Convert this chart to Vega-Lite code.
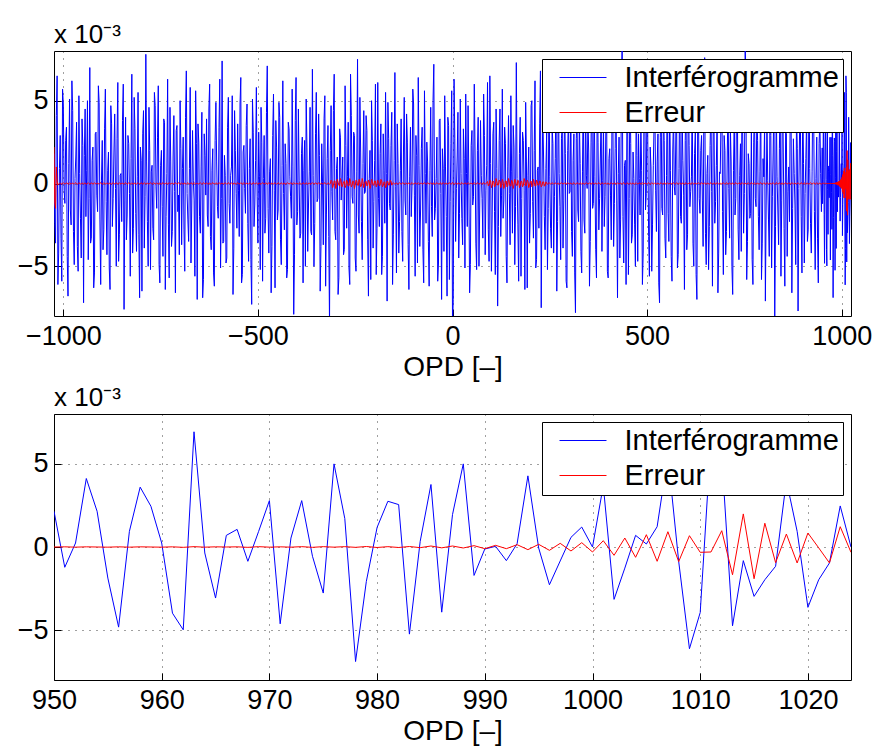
{
"$schema": "https://vega.github.io/schema/vega-lite/v6.json",
"background": "white",
"padding": {"left": 16, "top": 21, "right": 0, "bottom": 0},
"spacing": 2,
"config": {
  "font": "Liberation Sans",
  "view": {"stroke": "#000", "strokeWidth": 1},
  "axis": {"labelFont": "Liberation Sans", "titleFont": "Liberation Sans", "labelFontSize": 27, "titleFontSize": 28, "titleFontWeight": "normal", "labelColor": "#000", "titleColor": "#000", "domain": false, "tickColor": "#000", "tickSize": -7, "grid": true, "gridColor": "#000", "gridDash": [1, 6], "gridOpacity": 0.75, "labelFlush": false},
  "axisX": {"labelPadding": 14, "titlePadding": 4, "format": "d"},
  "axisY": {"labelPadding": 13},
  "legend": {"orient": "top-right", "offset": 8, "symbolType": "M-2,0H2", "symbolSize": 552, "symbolStrokeWidth": 1, "labelFont": "Liberation Sans", "labelFontSize": 29, "labelColor": "#000", "strokeColor": "#000", "fillColor": "#fff", "padding": 4, "rowPadding": 5, "symbolOffset": 22.5, "labelOffset": 27, "labelLimit": 400},
  "title": {"font": "Liberation Sans", "fontSize": 26, "fontWeight": "normal", "anchor": "start", "frame": "group", "offset": 3, "color": "#000"}
},
"resolve": {"scale": {"color": "independent"}, "legend": {"color": "independent"}},
"datasets": {"d": [
{"x":-1024,"i":1.8,"e":2.2},{"x":-1020,"i":-3.6,"e":-1.5},{"x":-1016,"i":6.5,"e":0.1},{"x":-1012,"i":-4.2,"e":-0.05},{"x":-1008,"i":2.9,"e":0.03},{"x":-1004,"i":-5.9,"e":-0.05},{"x":-1000,"i":4.8,"e":0.05},{"x":-996,"i":-1.2,"e":-0.03},{"x":-992,"i":3.4,"e":0.04},{"x":-988,"i":-6.8,"e":-0.05},{"x":-984,"i":5.1,"e":0.05},{"x":-980,"i":-2.5,"e":-0.04},{"x":-976,"i":4.4,"e":0.03},{"x":-972,"i":-4.9,"e":-0.04},{"x":-968,"i":1.6,"e":0.05},{"x":-964,"i":-3.8,"e":-0.05},
{"x":-960,"i":5.3,"e":0.05},{"x":-956,"i":-2.1,"e":-0.04},{"x":-952,"i":3.9,"e":0.04},{"x":-948,"i":-7.2,"e":-0.05},{"x":-944,"i":4.5,"e":0.03},{"x":-940,"i":0.8,"e":-0.05},{"x":-936,"i":-4.6,"e":0.05},{"x":-932,"i":7.0,"e":-0.03},{"x":-928,"i":-3.3,"e":0.04},{"x":-924,"i":2.2,"e":-0.05},{"x":-920,"i":-5.4,"e":0.05},{"x":-916,"i":3.1,"e":-0.04},{"x":-912,"i":-1.7,"e":0.03},{"x":-908,"i":4.9,"e":-0.04},{"x":-904,"i":-6.1,"e":0.05},{"x":-900,"i":2.6,"e":-0.05},
{"x":-896,"i":-2.8,"e":0.05},{"x":-892,"i":5.7,"e":-0.04},{"x":-888,"i":-4.3,"e":0.04},{"x":-884,"i":1.9,"e":-0.05},{"x":-880,"i":-6.4,"e":0.03},{"x":-876,"i":3.6,"e":-0.05},{"x":-872,"i":-0.9,"e":0.05},{"x":-868,"i":4.2,"e":-0.03},{"x":-864,"i":-5.0,"e":0.04},{"x":-860,"i":6.1,"e":-0.05},{"x":-856,"i":-3.1,"e":0.05},{"x":-852,"i":0.6,"e":-0.04},{"x":-848,"i":3.8,"e":0.03},{"x":-844,"i":-7.6,"e":-0.04},{"x":-840,"i":4.0,"e":0.05},{"x":-836,"i":-1.9,"e":-0.05},
{"x":-832,"i":2.4,"e":0.05},{"x":-828,"i":-5.6,"e":-0.04},{"x":-824,"i":6.6,"e":0.04},{"x":-820,"i":-2.7,"e":-0.05},{"x":-816,"i":3.3,"e":0.03},{"x":-812,"i":-4.1,"e":-0.05},{"x":-808,"i":5.5,"e":0.05},{"x":-804,"i":-6.9,"e":-0.03},{"x":-800,"i":1.4,"e":0.04},{"x":-796,"i":3.0,"e":-0.05},{"x":-792,"i":-3.9,"e":0.05},{"x":-788,"i":7.8,"e":-0.04},{"x":-784,"i":-2.3,"e":0.03},{"x":-780,"i":4.6,"e":-0.04},{"x":-776,"i":-5.2,"e":0.05},{"x":-772,"i":1.1,"e":-0.05},
{"x":-768,"i":-3.4,"e":0.05},{"x":-764,"i":4.7,"e":-0.04},{"x":-760,"i":-1.5,"e":0.04},{"x":-756,"i":5.9,"e":-0.05},{"x":-752,"i":-6.0,"e":0.03},{"x":-748,"i":2.0,"e":-0.05},{"x":-744,"i":-4.4,"e":0.05},{"x":-740,"i":3.7,"e":-0.03},{"x":-736,"i":-2.0,"e":0.04},{"x":-732,"i":6.3,"e":-0.05},{"x":-728,"i":-5.7,"e":0.05},{"x":-724,"i":1.3,"e":-0.04},{"x":-720,"i":-2.9,"e":0.03},{"x":-716,"i":4.1,"e":-0.04},{"x":-712,"i":-6.6,"e":0.05},{"x":-708,"i":3.5,"e":-0.05},
{"x":-704,"i":-0.7,"e":0.05},{"x":-700,"i":5.0,"e":-0.04},{"x":-696,"i":-3.7,"e":0.04},{"x":-692,"i":2.8,"e":-0.05},{"x":-688,"i":-5.3,"e":0.03},{"x":-684,"i":6.8,"e":-0.05},{"x":-680,"i":-2.2,"e":0.05},{"x":-676,"i":0.9,"e":-0.03},{"x":-672,"i":-4.8,"e":0.04},{"x":-668,"i":3.2,"e":-0.05},{"x":-664,"i":-1.0,"e":0.05},{"x":-660,"i":5.6,"e":-0.04},{"x":-656,"i":-7.0,"e":0.03},{"x":-652,"i":2.5,"e":-0.04},{"x":-648,"i":-3.0,"e":0.05},{"x":-644,"i":4.3,"e":-0.05},
{"x":-640,"i":-5.8,"e":0.05},{"x":-636,"i":1.7,"e":-0.04},{"x":-632,"i":3.9,"e":0.04},{"x":-628,"i":-2.6,"e":-0.05},{"x":-624,"i":6.0,"e":0.03},{"x":-620,"i":-4.0,"e":-0.05},{"x":-616,"i":2.1,"e":0.05},{"x":-612,"i":-6.2,"e":-0.03},{"x":-608,"i":4.9,"e":0.04},{"x":-604,"i":-1.4,"e":-0.05},{"x":-600,"i":3.4,"e":0.05},{"x":-596,"i":-5.1,"e":-0.04},{"x":-592,"i":7.4,"e":0.03},{"x":-588,"i":-3.5,"e":-0.04},{"x":-584,"i":0.5,"e":0.05},{"x":-580,"i":-4.5,"e":-0.05},
{"x":-576,"i":5.2,"e":0.05},{"x":-572,"i":-2.4,"e":-0.04},{"x":-568,"i":1.0,"e":0.04},{"x":-564,"i":-6.7,"e":-0.05},{"x":-560,"i":4.4,"e":0.03},{"x":-556,"i":-0.6,"e":-0.05},{"x":-552,"i":3.6,"e":0.05},{"x":-548,"i":-3.2,"e":-0.03},{"x":-544,"i":6.4,"e":0.04},{"x":-540,"i":-5.5,"e":-0.05},{"x":-536,"i":2.3,"e":0.05},{"x":-532,"i":-1.8,"e":-0.04},{"x":-528,"i":4.8,"e":0.03},{"x":-524,"i":-4.7,"e":-0.04},{"x":-520,"i":2.7,"e":0.05},{"x":-516,"i":-7.3,"e":-0.05},
{"x":-512,"i":3.1,"e":0.05},{"x":-508,"i":-1.3,"e":-0.04},{"x":-504,"i":5.8,"e":0.04},{"x":-500,"i":-3.6,"e":-0.05},{"x":-496,"i":0.4,"e":0.03},{"x":-492,"i":4.6,"e":-0.05},{"x":-488,"i":-5.9,"e":0.05},{"x":-484,"i":2.9,"e":-0.03},{"x":-480,"i":-2.1,"e":0.04},{"x":-476,"i":7.1,"e":-0.05},{"x":-472,"i":-4.2,"e":0.05},{"x":-468,"i":1.5,"e":-0.04},{"x":-464,"i":-3.8,"e":0.03},{"x":-460,"i":5.4,"e":-0.04},{"x":-456,"i":-6.3,"e":0.05},{"x":-452,"i":2.2,"e":-0.05},
{"x":-448,"i":-1.6,"e":0.05},{"x":-444,"i":4.0,"e":-0.04},{"x":-440,"i":-4.9,"e":0.04},{"x":-436,"i":6.2,"e":-0.05},{"x":-432,"i":-2.8,"e":0.03},{"x":-428,"i":1.2,"e":-0.05},{"x":-424,"i":-5.2,"e":0.05},{"x":-420,"i":3.3,"e":-0.03},{"x":-416,"i":-0.8,"e":0.04},{"x":-412,"i":5.7,"e":-0.05},{"x":-408,"i":-7.9,"e":0.05},{"x":-404,"i":3.8,"e":-0.04},{"x":-400,"i":-2.5,"e":0.03},{"x":-396,"i":4.5,"e":-0.04},{"x":-392,"i":-3.3,"e":0.05},{"x":-388,"i":1.8,"e":-0.05},
{"x":-384,"i":-6.0,"e":0.05},{"x":-380,"i":2.6,"e":-0.04},{"x":-376,"i":5.1,"e":0.04},{"x":-372,"i":-4.1,"e":-0.05},{"x":-368,"i":0.7,"e":0.03},{"x":-364,"i":-2.9,"e":-0.05},{"x":-360,"i":6.9,"e":0.05},{"x":-356,"i":-5.0,"e":-0.03},{"x":-352,"i":3.0,"e":0.04},{"x":-348,"i":-1.1,"e":-0.05},{"x":-344,"i":4.2,"e":0.05},{"x":-340,"i":-6.5,"e":-0.04},{"x":-336,"i":2.4,"e":0.03},{"x":-332,"i":-3.7,"e":-0.04},{"x":-328,"i":5.3,"e":0.05},{"x":-324,"i":-1.9,"e":-0.05},
{"x":-320,"i":3.5,"e":0.05},{"x":-316,"i":-8.5,"e":-0.05},{"x":-312,"i":4.7,"e":0.2},{"x":-308,"i":-2.2,"e":-0.25},{"x":-304,"i":6.6,"e":0.15},{"x":-300,"i":-3.4,"e":-0.3},{"x":-296,"i":1.6,"e":0.25},{"x":-292,"i":-5.7,"e":-0.1},{"x":-288,"i":2.8,"e":0.3},{"x":-284,"i":0.3,"e":-0.2},{"x":-280,"i":-4.3,"e":0.1},{"x":-276,"i":5.9,"e":-0.25},{"x":-272,"i":-2.7,"e":0.2},{"x":-268,"i":3.7,"e":-0.15},{"x":-264,"i":-6.1,"e":0.3},{"x":-260,"i":4.1,"e":-0.2},
{"x":-256,"i":-1.2,"e":0.15},{"x":-252,"i":2.9,"e":-0.3},{"x":-248,"i":-5.3,"e":0.2},{"x":-244,"i":7.5,"e":-0.1},{"x":-240,"i":-3.0,"e":0.25},{"x":-236,"i":1.9,"e":-0.2},{"x":-232,"i":-4.6,"e":0.3},{"x":-228,"i":4.4,"e":-0.25},{"x":-224,"i":-0.5,"e":0.1},{"x":-220,"i":3.2,"e":-0.15},{"x":-216,"i":-6.8,"e":0.2},{"x":-212,"i":2.0,"e":-0.3},{"x":-208,"i":5.0,"e":0.25},{"x":-204,"i":-3.9,"e":-0.1},{"x":-200,"i":1.4,"e":0.15},{"x":-196,"i":-5.5,"e":-0.2},
{"x":-192,"i":6.1,"e":0.2},{"x":-188,"i":-2.6,"e":-0.15},{"x":-184,"i":3.6,"e":0.25},{"x":-180,"i":-4.4,"e":-0.2},{"x":-176,"i":0.8,"e":0.1},{"x":-172,"i":5.5,"e":-0.25},{"x":-168,"i":-7.1,"e":0.15},{"x":-164,"i":2.7,"e":-0.1},{"x":-160,"i":-1.6,"e":0.2},{"x":-156,"i":4.3,"e":-0.1},{"x":-152,"i":-3.1,"e":0.05},{"x":-148,"i":6.7,"e":-0.05},{"x":-144,"i":-5.4,"e":0.04},{"x":-140,"i":1.2,"e":-0.05},{"x":-136,"i":-2.3,"e":0.05},{"x":-132,"i":3.9,"e":-0.04},
{"x":-128,"i":-4.7,"e":0.05},{"x":-124,"i":5.2,"e":-0.04},{"x":-120,"i":-1.9,"e":0.04},{"x":-116,"i":2.5,"e":-0.05},{"x":-112,"i":-6.4,"e":0.03},{"x":-108,"i":3.4,"e":-0.05},{"x":-104,"i":-0.2,"e":0.05},{"x":-100,"i":4.8,"e":-0.03},{"x":-96,"i":-5.6,"e":0.04},{"x":-92,"i":1.7,"e":-0.05},{"x":-88,"i":6.4,"e":0.05},{"x":-84,"i":-3.8,"e":-0.04},{"x":-80,"i":2.1,"e":0.03},{"x":-76,"i":-4.0,"e":-0.04},{"x":-72,"i":5.6,"e":0.05},{"x":-68,"i":-2.4,"e":-0.05},
{"x":-64,"i":1.3,"e":0.05},{"x":-60,"i":-6.2,"e":-0.04},{"x":-56,"i":4.6,"e":0.04},{"x":-52,"i":-3.2,"e":-0.05},{"x":-48,"i":7.2,"e":0.03},{"x":-44,"i":-1.5,"e":-0.05},{"x":-40,"i":2.8,"e":0.05},{"x":-36,"i":-4.8,"e":-0.03},{"x":-32,"i":3.9,"e":0.04},{"x":-28,"i":-7.0,"e":-0.05},{"x":-24,"i":0.9,"e":0.05},{"x":-20,"i":5.3,"e":-0.04},{"x":-16,"i":-2.0,"e":0.03},{"x":-12,"i":4.0,"e":-0.04},{"x":-8,"i":-5.8,"e":0.05},{"x":-4,"i":2.4,"e":-0.05},
{"x":0,"i":-8.6,"e":0.06},{"x":4,"i":6.3,"e":-0.06},{"x":8,"i":-3.5,"e":0.04},{"x":12,"i":1.6,"e":-0.05},{"x":16,"i":-4.5,"e":0.03},{"x":20,"i":5.1,"e":-0.05},{"x":24,"i":-2.1,"e":0.05},{"x":28,"i":3.3,"e":-0.03},{"x":32,"i":-5.1,"e":0.04},{"x":36,"i":0.6,"e":-0.05},{"x":40,"i":4.7,"e":0.05},{"x":44,"i":-6.6,"e":-0.04},{"x":48,"i":2.3,"e":0.03},{"x":52,"i":-1.3,"e":-0.04},{"x":56,"i":6.0,"e":0.05},{"x":60,"i":-3.6,"e":-0.05},
{"x":64,"i":2.0,"e":0.05},{"x":68,"i":-5.0,"e":-0.05},{"x":72,"i":3.8,"e":0.04},{"x":76,"i":-0.9,"e":-0.05},{"x":80,"i":5.4,"e":0.05},{"x":84,"i":-4.3,"e":-0.04},{"x":88,"i":1.1,"e":0.05},{"x":92,"i":-2.8,"e":-0.15},{"x":96,"i":6.5,"e":0.2},{"x":100,"i":-5.3,"e":-0.25},{"x":104,"i":3.0,"e":0.15},{"x":108,"i":-1.7,"e":-0.2},{"x":112,"i":4.5,"e":0.3},{"x":116,"i":-7.4,"e":-0.1},{"x":120,"i":2.6,"e":0.2},{"x":124,"i":-3.2,"e":-0.25},
{"x":128,"i":5.7,"e":0.25},{"x":132,"i":-1.0,"e":-0.3},{"x":136,"i":2.4,"e":0.15},{"x":140,"i":-6.0,"e":-0.2},{"x":144,"i":4.1,"e":0.3},{"x":148,"i":-3.7,"e":-0.15},{"x":152,"i":0.7,"e":0.2},{"x":156,"i":3.5,"e":-0.3},{"x":160,"i":-4.9,"e":0.25},{"x":164,"i":7.3,"e":-0.1},{"x":168,"i":-2.5,"e":0.2},{"x":172,"i":1.8,"e":-0.25},{"x":176,"i":-5.6,"e":0.15},{"x":180,"i":3.1,"e":-0.2},{"x":184,"i":-0.4,"e":0.3},{"x":188,"i":4.9,"e":-0.15},
{"x":192,"i":-6.3,"e":0.2},{"x":196,"i":2.2,"e":-0.25},{"x":200,"i":-1.8,"e":0.1},{"x":204,"i":5.0,"e":-0.2},{"x":208,"i":-3.3,"e":0.25},{"x":212,"i":6.2,"e":-0.15},{"x":216,"i":-4.6,"e":0.2},{"x":220,"i":1.0,"e":-0.1},{"x":224,"i":3.6,"e":0.15},{"x":228,"i":-7.5,"e":-0.2},{"x":232,"i":4.3,"e":0.1},{"x":236,"i":-2.0,"e":-0.15},{"x":240,"i":0.9,"e":0.1},{"x":244,"i":-5.2,"e":-0.05},{"x":248,"i":5.8,"e":0.05},{"x":252,"i":-2.7,"e":-0.04},
{"x":256,"i":3.4,"e":0.05},{"x":260,"i":-4.2,"e":-0.04},{"x":264,"i":1.5,"e":0.04},{"x":268,"i":-6.5,"e":-0.05},{"x":272,"i":6.9,"e":0.03},{"x":276,"i":-1.4,"e":-0.05},{"x":280,"i":2.7,"e":0.05},{"x":284,"i":-3.9,"e":-0.03},{"x":288,"i":4.8,"e":0.04},{"x":292,"i":-5.9,"e":-0.05},{"x":296,"i":2.0,"e":0.05},{"x":300,"i":-0.6,"e":-0.04},{"x":304,"i":5.2,"e":0.03},{"x":308,"i":-4.4,"e":-0.04},{"x":312,"i":3.0,"e":0.05},{"x":316,"i":-7.8,"e":-0.05},
{"x":320,"i":4.2,"e":0.05},{"x":324,"i":-2.3,"e":-0.04},{"x":328,"i":1.2,"e":0.04},{"x":332,"i":-5.4,"e":-0.05},{"x":336,"i":6.0,"e":0.03},{"x":340,"i":-3.0,"e":-0.05},{"x":344,"i":0.5,"e":0.05},{"x":348,"i":3.9,"e":-0.03},{"x":352,"i":-6.2,"e":0.04},{"x":356,"i":2.5,"e":-0.05},{"x":360,"i":-1.5,"e":0.05},{"x":364,"i":5.5,"e":-0.04},{"x":368,"i":-4.0,"e":0.03},{"x":372,"i":7.0,"e":-0.04},{"x":376,"i":-2.8,"e":0.05},{"x":380,"i":1.6,"e":-0.05},
{"x":384,"i":-4.1,"e":0.05},{"x":388,"i":3.7,"e":-0.04},{"x":392,"i":-0.8,"e":0.04},{"x":396,"i":5.3,"e":-0.05},{"x":400,"i":-5.7,"e":0.03},{"x":404,"i":2.1,"e":-0.05},{"x":408,"i":-3.4,"e":0.05},{"x":412,"i":4.6,"e":-0.03},{"x":416,"i":-1.2,"e":0.04},{"x":420,"i":6.6,"e":-0.05},{"x":424,"i":-6.9,"e":0.05},{"x":428,"i":2.8,"e":-0.04},{"x":432,"i":-2.2,"e":0.03},{"x":436,"i":8.6,"e":-0.04},{"x":440,"i":-4.8,"e":0.05},{"x":444,"i":1.4,"e":-0.05},
{"x":448,"i":3.2,"e":0.05},{"x":452,"i":-5.5,"e":-0.04},{"x":456,"i":6.4,"e":0.04},{"x":460,"i":-3.6,"e":-0.05},{"x":464,"i":1.9,"e":0.03},{"x":468,"i":-2.5,"e":-0.05},{"x":472,"i":5.1,"e":0.05},{"x":476,"i":-4.7,"e":-0.03},{"x":480,"i":0.3,"e":0.04},{"x":484,"i":3.8,"e":-0.05},{"x":488,"i":-6.1,"e":0.05},{"x":492,"i":4.4,"e":-0.04},{"x":496,"i":-1.6,"e":0.03},{"x":500,"i":6.3,"e":-0.04},{"x":504,"i":-3.2,"e":0.05},{"x":508,"i":2.2,"e":-0.05},
{"x":512,"i":-5.3,"e":0.05},{"x":516,"i":1.1,"e":-0.04},{"x":520,"i":4.7,"e":0.04},{"x":524,"i":-2.9,"e":-0.05},{"x":528,"i":3.0,"e":0.03},{"x":532,"i":-7.2,"e":-0.05},{"x":536,"i":5.6,"e":0.05},{"x":540,"i":-1.9,"e":-0.03},{"x":544,"i":2.6,"e":0.04},{"x":548,"i":-4.5,"e":-0.05},{"x":552,"i":6.8,"e":0.05},{"x":556,"i":-3.5,"e":-0.04},{"x":560,"i":0.8,"e":0.03},{"x":564,"i":-5.9,"e":-0.04},{"x":568,"i":4.2,"e":0.05},{"x":572,"i":-0.7,"e":-0.05},
{"x":576,"i":3.6,"e":0.05},{"x":580,"i":-4.3,"e":-0.04},{"x":584,"i":6.1,"e":0.04},{"x":588,"i":-2.4,"e":-0.05},{"x":592,"i":1.4,"e":0.03},{"x":596,"i":-6.4,"e":-0.05},{"x":600,"i":4.9,"e":0.05},{"x":604,"i":-3.1,"e":-0.03},{"x":608,"i":2.3,"e":0.04},{"x":612,"i":-0.5,"e":-0.05},{"x":616,"i":5.4,"e":0.05},{"x":620,"i":-5.0,"e":-0.04},{"x":624,"i":3.1,"e":0.03},{"x":628,"i":-7.0,"e":-0.04},{"x":632,"i":4.6,"e":0.05},{"x":636,"i":-1.8,"e":-0.05},
{"x":640,"i":2.9,"e":0.05},{"x":644,"i":-3.8,"e":-0.04},{"x":648,"i":7.6,"e":0.04},{"x":652,"i":-4.9,"e":-0.05},{"x":656,"i":1.7,"e":0.03},{"x":660,"i":-2.6,"e":-0.05},{"x":664,"i":5.0,"e":0.05},{"x":668,"i":-6.2,"e":-0.03},{"x":672,"i":3.5,"e":0.04},{"x":676,"i":-1.1,"e":-0.05},{"x":680,"i":4.1,"e":0.05},{"x":684,"i":-4.2,"e":-0.04},{"x":688,"i":0.6,"e":0.03},{"x":692,"i":6.4,"e":-0.04},{"x":696,"i":-5.5,"e":0.05},{"x":700,"i":2.0,"e":-0.05},
{"x":704,"i":-2.9,"e":0.05},{"x":708,"i":5.2,"e":-0.04},{"x":712,"i":-3.3,"e":0.04},{"x":716,"i":1.3,"e":-0.05},{"x":720,"i":-6.7,"e":0.03},{"x":724,"i":3.9,"e":-0.05},{"x":728,"i":-0.9,"e":0.05},{"x":732,"i":4.8,"e":-0.03},{"x":736,"i":-4.6,"e":0.04},{"x":740,"i":2.4,"e":-0.05},{"x":744,"i":6.9,"e":0.05},{"x":748,"i":-3.0,"e":-0.04},{"x":752,"i":8.6,"e":0.03},{"x":756,"i":-5.8,"e":-0.04},{"x":760,"i":1.8,"e":0.05},{"x":764,"i":-2.1,"e":-0.05},
{"x":768,"i":3.3,"e":0.05},{"x":772,"i":-6.1,"e":-0.04},{"x":776,"i":4.5,"e":0.04},{"x":780,"i":-1.4,"e":-0.05},{"x":784,"i":2.6,"e":0.03},{"x":788,"i":-4.0,"e":-0.05},{"x":792,"i":5.9,"e":0.05},{"x":796,"i":-3.6,"e":-0.03},{"x":800,"i":0.4,"e":0.04},{"x":804,"i":-7.1,"e":-0.05},{"x":808,"i":3.7,"e":0.05},{"x":812,"i":-2.2,"e":-0.04},{"x":816,"i":6.2,"e":0.03},{"x":820,"i":-5.1,"e":-0.04},{"x":824,"i":1.9,"e":0.05},{"x":828,"i":-8.4,"e":-0.05},
{"x":832,"i":4.9,"e":0.05},{"x":836,"i":-1.6,"e":-0.04},{"x":840,"i":2.1,"e":0.04},{"x":844,"i":-5.6,"e":-0.05},{"x":848,"i":6.7,"e":0.03},{"x":852,"i":-2.7,"e":-0.05},{"x":856,"i":3.2,"e":0.05},{"x":860,"i":-4.4,"e":-0.03},{"x":864,"i":1.0,"e":0.04},{"x":868,"i":5.6,"e":-0.05},{"x":872,"i":-6.6,"e":0.05},{"x":876,"i":2.7,"e":-0.04},{"x":880,"i":-1.3,"e":0.03},{"x":884,"i":4.3,"e":-0.04},{"x":888,"i":-7.7,"e":0.05},{"x":892,"i":3.4,"e":-0.05},
{"x":896,"i":-2.0,"e":0.05},{"x":900,"i":5.8,"e":-0.04},{"x":904,"i":-4.8,"e":0.04},{"x":908,"i":1.5,"e":-0.05},{"x":912,"i":-3.5,"e":0.03},{"x":916,"i":6.5,"e":-0.05},{"x":920,"i":-2.4,"e":0.05},{"x":924,"i":0.7,"e":-0.03},{"x":928,"i":4.4,"e":0.04},{"x":932,"i":-5.2,"e":-0.05},{"x":936,"i":2.8,"e":0.05},{"x":940,"i":-6.0,"e":-0.04},{"x":944,"i":3.8,"e":0.03},{"x":948,"i":-1.7,"e":-0.04},
{"x":950,"i":2.15,"e":0},{"x":951,"i":-1.22,"e":0.01},{"x":952,"i":0.24,"e":-0.01},{"x":953,"i":4.12,"e":0.01},{"x":954,"i":2.15,"e":0},{"x":955,"i":-1.87,"e":-0.01},{"x":956,"i":-4.82,"e":0.01},{"x":957,"i":0.94,"e":-0.01},{"x":958,"i":3.6,"e":0.01},{"x":959,"i":2.45,"e":0},
{"x":960,"i":0.24,"e":-0.01},{"x":961,"i":-3.98,"e":0.01},{"x":962,"i":-4.98,"e":-0.02},{"x":963,"i":6.93,"e":0.02},{"x":964,"i":-0.36,"e":-0.01},{"x":965,"i":-3.07,"e":0.01},{"x":966,"i":0.7,"e":0},{"x":967,"i":1.06,"e":0.01},{"x":968,"i":-0.86,"e":-0.02},{"x":969,"i":0.94,"e":0.02},
{"x":970,"i":2.79,"e":-0.01},{"x":971,"i":-4.62,"e":0.01},{"x":972,"i":0.54,"e":-0.01},{"x":973,"i":2.79,"e":0.02},{"x":974,"i":-0.56,"e":-0.02},{"x":975,"i":-2.77,"e":0.02},{"x":976,"i":5.0,"e":-0.01},{"x":977,"i":1.71,"e":0.02},{"x":978,"i":-6.89,"e":-0.02},{"x":979,"i":-2.07,"e":0.03},
{"x":980,"i":1.18,"e":-0.03},{"x":981,"i":2.75,"e":0.02},{"x":982,"i":2.55,"e":-0.03},{"x":983,"i":-5.24,"e":0.03},{"x":984,"i":0.34,"e":-0.04},{"x":985,"i":3.76,"e":0.06},{"x":986,"i":-3.92,"e":-0.05},{"x":987,"i":1.95,"e":0.06},{"x":988,"i":5.0,"e":-0.06},{"x":989,"i":-1.71,"e":0.08},
{"x":990,"i":-0.12,"e":-0.1},{"x":991,"i":0.04,"e":0.1},{"x":992,"i":-0.82,"e":-0.1},{"x":993,"i":0.2,"e":0.14},{"x":994,"i":4.28,"e":-0.16},{"x":995,"i":-0.06,"e":0.16},{"x":996,"i":-2.27,"e":-0.2},{"x":997,"i":-0.84,"e":0.22},{"x":998,"i":0.58,"e":-0.24},{"x":999,"i":1.2,"e":0.26},
{"x":1000,"i":0.0,"e":-0.3},{"x":1001,"i":3.7,"e":0.38},{"x":1002,"i":-3.15,"e":-0.5},{"x":1003,"i":-1.27,"e":0.54},{"x":1004,"i":0.7,"e":-0.62},{"x":1005,"i":0.18,"e":0.74},{"x":1006,"i":1.22,"e":-0.86},{"x":1007,"i":5.5,"e":0.92},{"x":1008,"i":-0.86,"e":-0.88},{"x":1009,"i":-6.12,"e":0.68},
{"x":1010,"i":-3.94,"e":-0.32},{"x":1011,"i":6.5,"e":-0.3},{"x":1012,"i":5.5,"e":0.98},{"x":1013,"i":-4.74,"e":-1.67},{"x":1014,"i":-0.82,"e":1.99},{"x":1015,"i":-2.97,"e":-1.91},{"x":1016,"i":-1.97,"e":1.43},{"x":1017,"i":-1.16,"e":-0.94},{"x":1018,"i":4.0,"e":0.78},{"x":1019,"i":0.94,"e":-0.96},
{"x":1020,"i":-3.63,"e":0.84},{"x":1021,"i":-1.97,"e":-0.05},{"x":1022,"i":-0.96,"e":-0.96},{"x":1023,"i":2.47,"e":1.22},{"x":1024,"i":0.0,"e":-0.32},
{"x":-1022,"i":-2.4,"e":-1.2},{"x":-1018,"i":4.1,"e":1.0},{"x":-1014,"i":-6.1,"e":-0.1},{"x":-1010,"i":0.9,"e":0.02},{"x":-1006,"i":-3.3,"e":-0.02},{"x":-1002,"i":5.7,"e":0.01},{"x":-998,"i":-0.4,"e":0},{"x":-994,"i":2.6,"e":-0.01},{"x":-990,"i":-4.4,"e":0.02},{"x":-986,"i":1.2,"e":-0.01},{"x":-982,"i":-1.6,"e":0},{"x":-978,"i":6.2,"e":0.01},{"x":-974,"i":-2.9,"e":-0.02},{"x":-970,"i":0.3,"e":0.01},{"x":-966,"i":3.7,"e":0},{"x":-962,"i":-5.3,"e":-0.01},
{"x":-958,"i":0.6,"e":0.01},{"x":-954,"i":-4.5,"e":-0.01},{"x":-950,"i":2.3,"e":0},{"x":-946,"i":1.7,"e":0.02},{"x":-942,"i":-2.0,"e":-0.02},{"x":-938,"i":5.0,"e":0.01},{"x":-934,"i":-0.9,"e":0},{"x":-930,"i":-3.6,"e":-0.01},{"x":-926,"i":1.4,"e":0.02},{"x":-922,"i":-6.3,"e":-0.01},{"x":-918,"i":3.0,"e":0},{"x":-914,"i":-0.7,"e":0.01},{"x":-910,"i":5.9,"e":-0.02},{"x":-906,"i":-2.2,"e":0.01},{"x":-902,"i":0.2,"e":0},{"x":-898,"i":-4.0,"e":-0.01},
{"x":-894,"i":3.3,"e":0.01},{"x":-890,"i":-1.1,"e":-0.01},{"x":-886,"i":0.8,"e":0},{"x":-882,"i":-5.1,"e":0.02},{"x":-878,"i":4.7,"e":-0.02},{"x":-874,"i":-2.6,"e":0.01},{"x":-870,"i":1.9,"e":0},{"x":-866,"i":-0.3,"e":-0.01},{"x":-862,"i":2.7,"e":0.02},{"x":-858,"i":-4.7,"e":-0.01},{"x":-854,"i":0.5,"e":0},{"x":-850,"i":-2.3,"e":0.01},{"x":-846,"i":6.0,"e":-0.02},{"x":-842,"i":-1.0,"e":0.01},{"x":-838,"i":-3.4,"e":0},{"x":-834,"i":2.9,"e":-0.01},
{"x":-830,"i":-0.6,"e":0.01},{"x":-826,"i":1.5,"e":-0.01},{"x":-822,"i":-4.2,"e":0},{"x":-818,"i":5.2,"e":0.02},{"x":-814,"i":-1.8,"e":-0.02},{"x":-810,"i":0.4,"e":0.01},{"x":-806,"i":-3.1,"e":0},{"x":-802,"i":2.2,"e":-0.01},{"x":-798,"i":-6.5,"e":0.02},{"x":-794,"i":4.4,"e":-0.01},{"x":-790,"i":-0.8,"e":0},{"x":-786,"i":1.3,"e":0.01},{"x":-782,"i":-5.0,"e":-0.02},{"x":-778,"i":2.0,"e":0.01},{"x":-774,"i":0.7,"e":0},{"x":-770,"i":-2.7,"e":-0.01},
{"x":-766,"i":5.5,"e":0.01},{"x":-762,"i":-0.2,"e":-0.01},{"x":-758,"i":2.8,"e":0},{"x":-754,"i":-4.9,"e":0.02},{"x":-750,"i":1.1,"e":-0.02},{"x":-746,"i":-1.4,"e":0.01},{"x":-742,"i":3.9,"e":0},{"x":-738,"i":-6.4,"e":-0.01},{"x":-734,"i":0.6,"e":0.02},{"x":-730,"i":-2.5,"e":-0.01},{"x":-726,"i":4.6,"e":0},{"x":-722,"i":-3.8,"e":0.01},{"x":-718,"i":1.6,"e":-0.02},{"x":-714,"i":-0.5,"e":0.01},{"x":-710,"i":3.2,"e":0},{"x":-706,"i":-1.7,"e":-0.01},
{"x":-702,"i":-4.3,"e":0.01},{"x":-698,"i":2.1,"e":-0.01},{"x":-694,"i":0.9,"e":0},{"x":-690,"i":-2.8,"e":0.02},{"x":-686,"i":4.0,"e":-0.02},{"x":-682,"i":-0.6,"e":0.01},{"x":-678,"i":-3.5,"e":0},{"x":-674,"i":5.8,"e":-0.01},{"x":-670,"i":-1.3,"e":0.02},{"x":-666,"i":0.2,"e":-0.01},{"x":-662,"i":-5.6,"e":0},{"x":-658,"i":2.4,"e":0.01},{"x":-654,"i":3.6,"e":-0.02},{"x":-650,"i":-2.0,"e":0.01},{"x":-646,"i":1.0,"e":0},{"x":-642,"i":-6.9,"e":-0.01},
{"x":-638,"i":3.0,"e":0.01},{"x":-634,"i":-0.7,"e":-0.01},{"x":-630,"i":-1.9,"e":0},{"x":-626,"i":4.5,"e":0.02},{"x":-622,"i":-3.2,"e":-0.02},{"x":-618,"i":0.8,"e":0.01},{"x":-614,"i":-5.4,"e":0},{"x":-610,"i":2.6,"e":-0.01},{"x":-606,"i":1.3,"e":0.02},{"x":-602,"i":-2.1,"e":-0.01},{"x":-598,"i":6.3,"e":0},{"x":-594,"i":-0.9,"e":0.01},{"x":-590,"i":-3.6,"e":-0.02},{"x":-586,"i":1.7,"e":0.01},{"x":-582,"i":-4.8,"e":0},{"x":-578,"i":3.4,"e":-0.01},
{"x":-574,"i":-1.2,"e":0.01},{"x":-570,"i":0.5,"e":-0.01},{"x":-566,"i":5.3,"e":0},{"x":-562,"i":-3.9,"e":0.02},{"x":-558,"i":2.0,"e":-0.02},{"x":-554,"i":-2.7,"e":0.01},{"x":-550,"i":-0.4,"e":0},{"x":-546,"i":4.8,"e":-0.01},{"x":-542,"i":-6.0,"e":0.02},{"x":-538,"i":1.9,"e":-0.01},{"x":-534,"i":-0.3,"e":0},{"x":-530,"i":3.5,"e":0.01},{"x":-526,"i":-2.4,"e":-0.02},{"x":-522,"i":0.9,"e":0.01},{"x":-518,"i":-4.6,"e":0},{"x":-514,"i":5.1,"e":-0.01},
{"x":-510,"i":-2.6,"e":0.01},{"x":-506,"i":1.4,"e":-0.01},{"x":-502,"i":-0.8,"e":0},{"x":-498,"i":3.1,"e":0.02},{"x":-494,"i":-5.2,"e":-0.02},{"x":-490,"i":2.5,"e":0.01},{"x":-486,"i":0.3,"e":0},{"x":-482,"i":-3.0,"e":-0.01},{"x":-478,"i":4.3,"e":0.02},{"x":-474,"i":-1.5,"e":-0.01},{"x":-470,"i":0.7,"e":0},{"x":-466,"i":-6.6,"e":0.01},{"x":-462,"i":2.9,"e":-0.02},{"x":-458,"i":-0.4,"e":0.01},{"x":-454,"i":3.8,"e":0},{"x":-450,"i":-2.2,"e":-0.01},
{"x":-446,"i":4.9,"e":0.01},{"x":-442,"i":-3.4,"e":-0.01},{"x":-438,"i":1.1,"e":0},{"x":-434,"i":-0.6,"e":0.02},{"x":-430,"i":2.4,"e":-0.02},{"x":-426,"i":-5.7,"e":0.01},{"x":-422,"i":3.7,"e":0},{"x":-418,"i":0.4,"e":-0.01},{"x":-414,"i":-2.1,"e":0.02},{"x":-410,"i":1.0,"e":-0.01},{"x":-406,"i":-4.3,"e":0},{"x":-402,"i":6.4,"e":0.01},{"x":-398,"i":-1.7,"e":-0.02},{"x":-394,"i":0.2,"e":0.01},{"x":-390,"i":-3.0,"e":0},{"x":-386,"i":2.8,"e":-0.01},
{"x":-382,"i":0.8,"e":0.01},{"x":-378,"i":-5.0,"e":-0.01},{"x":-374,"i":2.2,"e":0},{"x":-370,"i":-1.3,"e":0.02},{"x":-366,"i":4.6,"e":-0.02},{"x":-362,"i":-3.1,"e":0.01},{"x":-358,"i":0.5,"e":0},{"x":-354,"i":-2.4,"e":-0.01},{"x":-350,"i":5.5,"e":0.02},{"x":-346,"i":-0.9,"e":-0.01},{"x":-342,"i":1.7,"e":0},{"x":-338,"i":-3.8,"e":0.01},{"x":-334,"i":0.1,"e":-0.02},{"x":-330,"i":3.9,"e":0.01},{"x":-326,"i":-6.2,"e":0},{"x":-322,"i":1.5,"e":-0.01},
{"x":-318,"i":-3.2,"e":0.01},{"x":-314,"i":2.0,"e":-0.01},{"x":-310,"i":-0.5,"e":0.12},{"x":-306,"i":4.4,"e":-0.1},{"x":-302,"i":-2.9,"e":0.15},{"x":-298,"i":0.9,"e":-0.12},{"x":-294,"i":-6.7,"e":0.08},{"x":-290,"i":3.3,"e":-0.15},{"x":-286,"i":-1.0,"e":0.1},{"x":-282,"i":1.6,"e":-0.08},{"x":-278,"i":-4.0,"e":0.14},{"x":-274,"i":2.3,"e":-0.12},{"x":-270,"i":0.4,"e":0.1},{"x":-266,"i":-5.1,"e":-0.14},{"x":-262,"i":6.6,"e":0.12},{"x":-258,"i":-0.8,"e":-0.1},
{"x":-254,"i":3.1,"e":0.12},{"x":-250,"i":-4.5,"e":-0.1},{"x":-246,"i":0.7,"e":0.15},{"x":-242,"i":-1.9,"e":-0.12},{"x":-238,"i":5.2,"e":0.08},{"x":-234,"i":-2.3,"e":-0.15},{"x":-230,"i":1.2,"e":0.1},{"x":-226,"i":-0.6,"e":-0.08},{"x":-222,"i":4.1,"e":0.14},{"x":-218,"i":-3.4,"e":-0.12},{"x":-214,"i":0.3,"e":0.1},{"x":-210,"i":-5.8,"e":-0.14},{"x":-206,"i":2.6,"e":0.12},{"x":-202,"i":-1.1,"e":-0.1},{"x":-198,"i":6.0,"e":0.15},{"x":-194,"i":-2.7,"e":-0.08},
{"x":-190,"i":-0.9,"e":0.12},{"x":-186,"i":1.8,"e":-0.1},{"x":-182,"i":-5.5,"e":0.15},{"x":-178,"i":3.0,"e":-0.12},{"x":-174,"i":-2.4,"e":0.08},{"x":-170,"i":0.6,"e":-0.15},{"x":-166,"i":4.9,"e":0.1},{"x":-162,"i":-1.2,"e":-0.08},{"x":-158,"i":2.3,"e":0.14},{"x":-154,"i":-6.1,"e":-0.01},{"x":-150,"i":1.4,"e":0},{"x":-146,"i":-0.2,"e":0.01},{"x":-142,"i":3.6,"e":-0.02},{"x":-138,"i":-4.2,"e":0.01},{"x":-134,"i":0.8,"e":0},{"x":-130,"i":-2.9,"e":-0.01},
{"x":-126,"i":1.9,"e":0.01},{"x":-122,"i":-1.0,"e":-0.01},{"x":-118,"i":4.2,"e":0},{"x":-114,"i":-3.7,"e":0.02},{"x":-110,"i":0.4,"e":-0.02},{"x":-106,"i":-2.0,"e":0.01},{"x":-102,"i":5.7,"e":0},{"x":-98,"i":-0.7,"e":-0.01},{"x":-94,"i":2.9,"e":0.02},{"x":-90,"i":-4.8,"e":-0.01},{"x":-86,"i":1.1,"e":0},{"x":-82,"i":-1.6,"e":0.01},{"x":-78,"i":3.4,"e":-0.02},{"x":-74,"i":-6.0,"e":0.01},{"x":-70,"i":0.6,"e":0},{"x":-66,"i":2.5,"e":-0.01},
{"x":-62,"i":-3.5,"e":0.01},{"x":-58,"i":0.8,"e":-0.01},{"x":-54,"i":-1.4,"e":0},{"x":-50,"i":5.0,"e":0.02},{"x":-46,"i":-2.2,"e":-0.02},{"x":-42,"i":0.3,"e":0.01},{"x":-38,"i":-5.9,"e":0},{"x":-34,"i":3.8,"e":-0.01},{"x":-30,"i":-0.6,"e":0.02},{"x":-26,"i":2.1,"e":-0.01},{"x":-22,"i":-4.1,"e":0},{"x":-18,"i":1.0,"e":0.01},{"x":-14,"i":-6.8,"e":-0.02},{"x":-10,"i":3.5,"e":0.01},{"x":-6,"i":-1.1,"e":0},{"x":-2,"i":5.6,"e":-0.01},
{"x":2,"i":-7.0,"e":0.01},{"x":6,"i":2.7,"e":-0.01},{"x":10,"i":-0.3,"e":0},{"x":14,"i":4.3,"e":0.02},{"x":18,"i":-1.8,"e":-0.02},{"x":22,"i":0.6,"e":0.01},{"x":26,"i":-3.7,"e":0},{"x":30,"i":1.5,"e":-0.01},{"x":34,"i":5.4,"e":0.02},{"x":38,"i":-2.6,"e":-0.01},{"x":42,"i":0.2,"e":0},{"x":46,"i":-4.9,"e":0.01},{"x":50,"i":3.2,"e":-0.02},{"x":54,"i":-0.8,"e":0.01},{"x":58,"i":1.9,"e":0},{"x":62,"i":-5.2,"e":-0.01},
{"x":66,"i":4.0,"e":0.01},{"x":70,"i":-1.3,"e":-0.01},{"x":74,"i":0.5,"e":0},{"x":78,"i":-3.3,"e":0.02},{"x":82,"i":2.9,"e":-0.02},{"x":86,"i":-0.4,"e":0.01},{"x":90,"i":6.1,"e":0.12},{"x":94,"i":-4.7,"e":-0.1},{"x":98,"i":1.2,"e":0.15},{"x":102,"i":-1.9,"e":-0.12},{"x":106,"i":3.7,"e":0.08},{"x":110,"i":-5.5,"e":-0.15},{"x":114,"i":0.9,"e":0.1},{"x":118,"i":-2.6,"e":-0.08},{"x":122,"i":4.5,"e":0.14},{"x":126,"i":-0.7,"e":-0.12},
{"x":130,"i":-2.1,"e":0.12},{"x":134,"i":3.4,"e":-0.1},{"x":138,"i":-4.4,"e":0.15},{"x":142,"i":1.0,"e":-0.12},{"x":146,"i":-0.6,"e":0.08},{"x":150,"i":5.3,"e":-0.15},{"x":154,"i":-3.0,"e":0.1},{"x":158,"i":2.2,"e":-0.08},{"x":162,"i":-1.4,"e":0.14},{"x":166,"i":0.3,"e":-0.12},{"x":170,"i":-5.9,"e":0.1},{"x":174,"i":4.0,"e":-0.14},{"x":178,"i":-0.9,"e":0.12},{"x":182,"i":2.6,"e":-0.1},{"x":186,"i":-6.4,"e":0.15},{"x":190,"i":1.3,"e":-0.08},
{"x":194,"i":0.5,"e":0.12},{"x":198,"i":-3.6,"e":-0.1},{"x":202,"i":4.7,"e":0.15},{"x":206,"i":-1.1,"e":-0.12},{"x":210,"i":2.0,"e":0.08},{"x":214,"i":-5.1,"e":-0.15},{"x":218,"i":0.8,"e":0.1},{"x":222,"i":-2.7,"e":-0.08},{"x":226,"i":6.8,"e":0.14},{"x":230,"i":-0.2,"e":-0.12},{"x":234,"i":1.6,"e":0.1},{"x":238,"i":-4.0,"e":-0.14},{"x":242,"i":3.1,"e":0.02},{"x":246,"i":-1.5,"e":-0.01},{"x":250,"i":0.4,"e":0},{"x":254,"i":-3.9,"e":0.01},
{"x":258,"i":2.4,"e":0.01},{"x":262,"i":-0.8,"e":-0.01},{"x":266,"i":5.6,"e":0},{"x":270,"i":-2.3,"e":0.02},{"x":274,"i":0.6,"e":-0.02},{"x":278,"i":-4.6,"e":0.01},{"x":282,"i":3.5,"e":0},{"x":286,"i":-1.0,"e":-0.01},{"x":290,"i":1.8,"e":0.02},{"x":294,"i":-6.3,"e":-0.01},{"x":298,"i":4.2,"e":0},{"x":302,"i":-0.5,"e":0.01},{"x":306,"i":-2.9,"e":-0.02},{"x":310,"i":1.4,"e":0.01},{"x":314,"i":-5.4,"e":0},{"x":318,"i":2.7,"e":-0.01},
{"x":322,"i":-1.6,"e":0.01},{"x":326,"i":3.9,"e":-0.01},{"x":330,"i":-4.1,"e":0},{"x":334,"i":0.7,"e":0.02},{"x":338,"i":-2.2,"e":-0.02},{"x":342,"i":5.0,"e":0.01},{"x":346,"i":-0.3,"e":0},{"x":350,"i":1.9,"e":-0.01},{"x":354,"i":-3.5,"e":0.02},{"x":358,"i":6.2,"e":-0.01},{"x":362,"i":-1.2,"e":0},{"x":366,"i":0.4,"e":0.01},{"x":370,"i":-5.7,"e":-0.02},{"x":374,"i":2.5,"e":0.01},{"x":378,"i":-0.9,"e":0},{"x":382,"i":4.4,"e":-0.01},
{"x":386,"i":0.2,"e":0.01},{"x":390,"i":-2.6,"e":-0.01},{"x":394,"i":3.3,"e":0},{"x":398,"i":-5.3,"e":0.02},{"x":402,"i":1.5,"e":-0.02},{"x":406,"i":-0.7,"e":0.01},{"x":410,"i":4.9,"e":0},{"x":414,"i":-3.8,"e":-0.01},{"x":418,"i":2.1,"e":0.02},{"x":422,"i":-1.0,"e":-0.01},{"x":426,"i":0.6,"e":0},{"x":430,"i":-4.5,"e":0.01},{"x":434,"i":5.8,"e":-0.02},{"x":438,"i":-2.0,"e":0.01},{"x":442,"i":1.1,"e":0},{"x":446,"i":-6.1,"e":-0.01},
{"x":450,"i":4.6,"e":0.01},{"x":454,"i":-0.9,"e":-0.01},{"x":458,"i":2.4,"e":0},{"x":462,"i":-3.1,"e":0.02},{"x":466,"i":0.3,"e":-0.02},{"x":470,"i":-5.0,"e":0.01},{"x":474,"i":1.7,"e":0},{"x":478,"i":3.0,"e":-0.01},{"x":482,"i":-1.9,"e":0.02},{"x":486,"i":0.8,"e":-0.01},{"x":490,"i":-4.2,"e":0},{"x":494,"i":6.0,"e":0.01},{"x":498,"i":-0.6,"e":-0.02},{"x":502,"i":2.2,"e":0.01},{"x":506,"i":-5.6,"e":0},{"x":510,"i":1.0,"e":-0.01},
{"x":514,"i":-2.5,"e":0.01},{"x":518,"i":3.6,"e":-0.01},{"x":522,"i":-0.4,"e":0},{"x":526,"i":1.3,"e":0.02},{"x":530,"i":-6.0,"e":-0.02},{"x":534,"i":2.8,"e":0.01},{"x":538,"i":-1.5,"e":0},{"x":542,"i":4.5,"e":-0.01},{"x":546,"i":-3.3,"e":0.02},{"x":550,"i":0.5,"e":-0.01},{"x":554,"i":-1.8,"e":0},{"x":558,"i":5.1,"e":0.01},{"x":562,"i":-4.4,"e":-0.02},{"x":566,"i":1.9,"e":0.01},{"x":570,"i":-0.2,"e":0},{"x":574,"i":3.2,"e":-0.01},
{"x":578,"i":-5.1,"e":0.01},{"x":582,"i":0.9,"e":-0.01},{"x":586,"i":-2.0,"e":0},{"x":590,"i":4.2,"e":0.02},{"x":594,"i":-0.7,"e":-0.02},{"x":598,"i":2.6,"e":0.01},{"x":602,"i":-4.0,"e":0},{"x":606,"i":6.5,"e":-0.01},{"x":610,"i":-1.4,"e":0.02},{"x":614,"i":0.4,"e":-0.01},{"x":618,"i":-3.6,"e":0},{"x":622,"i":1.8,"e":0.01},{"x":626,"i":-5.5,"e":-0.02},{"x":630,"i":3.4,"e":0.01},{"x":634,"i":-0.9,"e":0},{"x":638,"i":2.0,"e":-0.01},
{"x":642,"i":-1.0,"e":0.01},{"x":646,"i":4.8,"e":-0.01},{"x":650,"i":-3.0,"e":0},{"x":654,"i":0.6,"e":0.02},{"x":658,"i":-5.2,"e":-0.02},{"x":662,"i":2.3,"e":0.01},{"x":666,"i":-0.5,"e":0},{"x":670,"i":3.9,"e":-0.01},{"x":674,"i":-2.4,"e":0.02},{"x":678,"i":1.1,"e":-0.01},{"x":682,"i":-6.6,"e":0},{"x":686,"i":0.7,"e":0.01},{"x":690,"i":4.0,"e":-0.02},{"x":694,"i":-1.7,"e":0.01},{"x":698,"i":2.9,"e":0},{"x":702,"i":-4.3,"e":-0.01},
{"x":706,"i":1.6,"e":0.01},{"x":710,"i":-0.3,"e":-0.01},{"x":714,"i":3.4,"e":0},{"x":718,"i":-5.0,"e":0.02},{"x":722,"i":0.8,"e":-0.02},{"x":726,"i":-1.9,"e":0.01},{"x":730,"i":5.6,"e":0},{"x":734,"i":-2.8,"e":-0.01},{"x":738,"i":0.5,"e":0.02},{"x":742,"i":-4.1,"e":-0.01},{"x":746,"i":2.2,"e":0},{"x":750,"i":-0.6,"e":0.01},{"x":754,"i":6.3,"e":-0.02},{"x":758,"i":-3.5,"e":0.01},{"x":762,"i":1.2,"e":0},{"x":766,"i":-1.8,"e":-0.01},
{"x":770,"i":-4.6,"e":0.01},{"x":774,"i":2.5,"e":-0.01},{"x":778,"i":-0.9,"e":0},{"x":782,"i":4.1,"e":0.02},{"x":786,"i":-2.0,"e":-0.02},{"x":790,"i":0.7,"e":0.01},{"x":794,"i":-5.8,"e":0},{"x":798,"i":1.5,"e":-0.01},{"x":802,"i":3.6,"e":0.02},{"x":806,"i":-1.3,"e":-0.01},{"x":810,"i":0.2,"e":0},{"x":814,"i":-4.4,"e":0.01},{"x":818,"i":2.9,"e":-0.02},{"x":822,"i":-0.8,"e":0.01},{"x":826,"i":5.2,"e":0},{"x":830,"i":-2.6,"e":-0.01},
{"x":834,"i":0.4,"e":0.01},{"x":838,"i":-3.7,"e":-0.01},{"x":842,"i":5.1,"e":0},{"x":846,"i":-1.0,"e":0.02},{"x":850,"i":1.9,"e":-0.02},{"x":854,"i":-6.2,"e":0.01},{"x":858,"i":3.0,"e":0},{"x":862,"i":-0.5,"e":-0.01},{"x":866,"i":-2.3,"e":0.02},{"x":870,"i":4.4,"e":-0.01},{"x":874,"i":-1.5,"e":0},{"x":878,"i":0.6,"e":0.01},{"x":882,"i":-4.9,"e":-0.02},{"x":886,"i":2.1,"e":0.01},{"x":890,"i":-0.3,"e":0},{"x":894,"i":3.5,"e":-0.01},
{"x":898,"i":-5.4,"e":0.01},{"x":902,"i":1.2,"e":-0.01},{"x":906,"i":-0.6,"e":0},{"x":910,"i":4.0,"e":0.02},{"x":914,"i":-2.8,"e":-0.02},{"x":918,"i":0.9,"e":0.01},{"x":922,"i":-4.2,"e":0},{"x":926,"i":6.1,"e":-0.01},{"x":930,"i":-1.7,"e":0.02},{"x":934,"i":0.3,"e":-0.01},{"x":938,"i":-3.3,"e":0},{"x":942,"i":2.4,"e":0.01},{"x":946,"i":0.6,"e":-0.02}
]},
"vconcat": [
{
  "width": 797, "height": 265,
  "title": {"text": "x 10⁻³"},
  "data": {"name": "d"},
  "transform": [{"fold": ["i", "e"], "as": ["s", "v"]}],
  "mark": {"type": "line", "strokeWidth": 1, "clip": true},
  "encoding": {
    "x": {"field": "x", "type": "quantitative", "scale": {"domain": [-1024, 1024], "nice": false, "zero": false}, "axis": {"values": [-1000, -500, 0, 500, 1000], "title": "OPD [–]"}},
    "y": {"field": "v", "type": "quantitative", "scale": {"domain": [-8, 8], "nice": false}, "axis": {"values": [-5, 0, 5], "title": null}},
    "color": {"field": "s", "type": "nominal", "scale": {"domain": ["i", "e"], "range": ["#0000ff", "#ff0000"]}, "legend": {"title": null, "labelExpr": "datum.label == 'i' ? 'Interférogramme' : 'Erreur'"}}
  }
},
{
  "width": 797, "height": 266,
  "title": {"text": "x 10⁻³"},
  "data": {"name": "d"},
  "transform": [{"filter": "datum.x >= 950"}, {"fold": ["i", "e"], "as": ["s", "v"]}],
  "mark": {"type": "line", "strokeWidth": 1, "clip": true},
  "encoding": {
    "x": {"field": "x", "type": "quantitative", "scale": {"domain": [950, 1024], "nice": false, "zero": false}, "axis": {"values": [950, 960, 970, 980, 990, 1000, 1010, 1020], "title": "OPD [–]"}},
    "y": {"field": "v", "type": "quantitative", "scale": {"domain": [-8, 8], "nice": false}, "axis": {"values": [-5, 0, 5], "title": null}},
    "color": {"field": "s", "type": "nominal", "scale": {"domain": ["i", "e"], "range": ["#0000ff", "#ff0000"]}, "legend": {"title": null, "labelExpr": "datum.label == 'i' ? 'Interférogramme' : 'Erreur'"}}
  }
}
]
}
